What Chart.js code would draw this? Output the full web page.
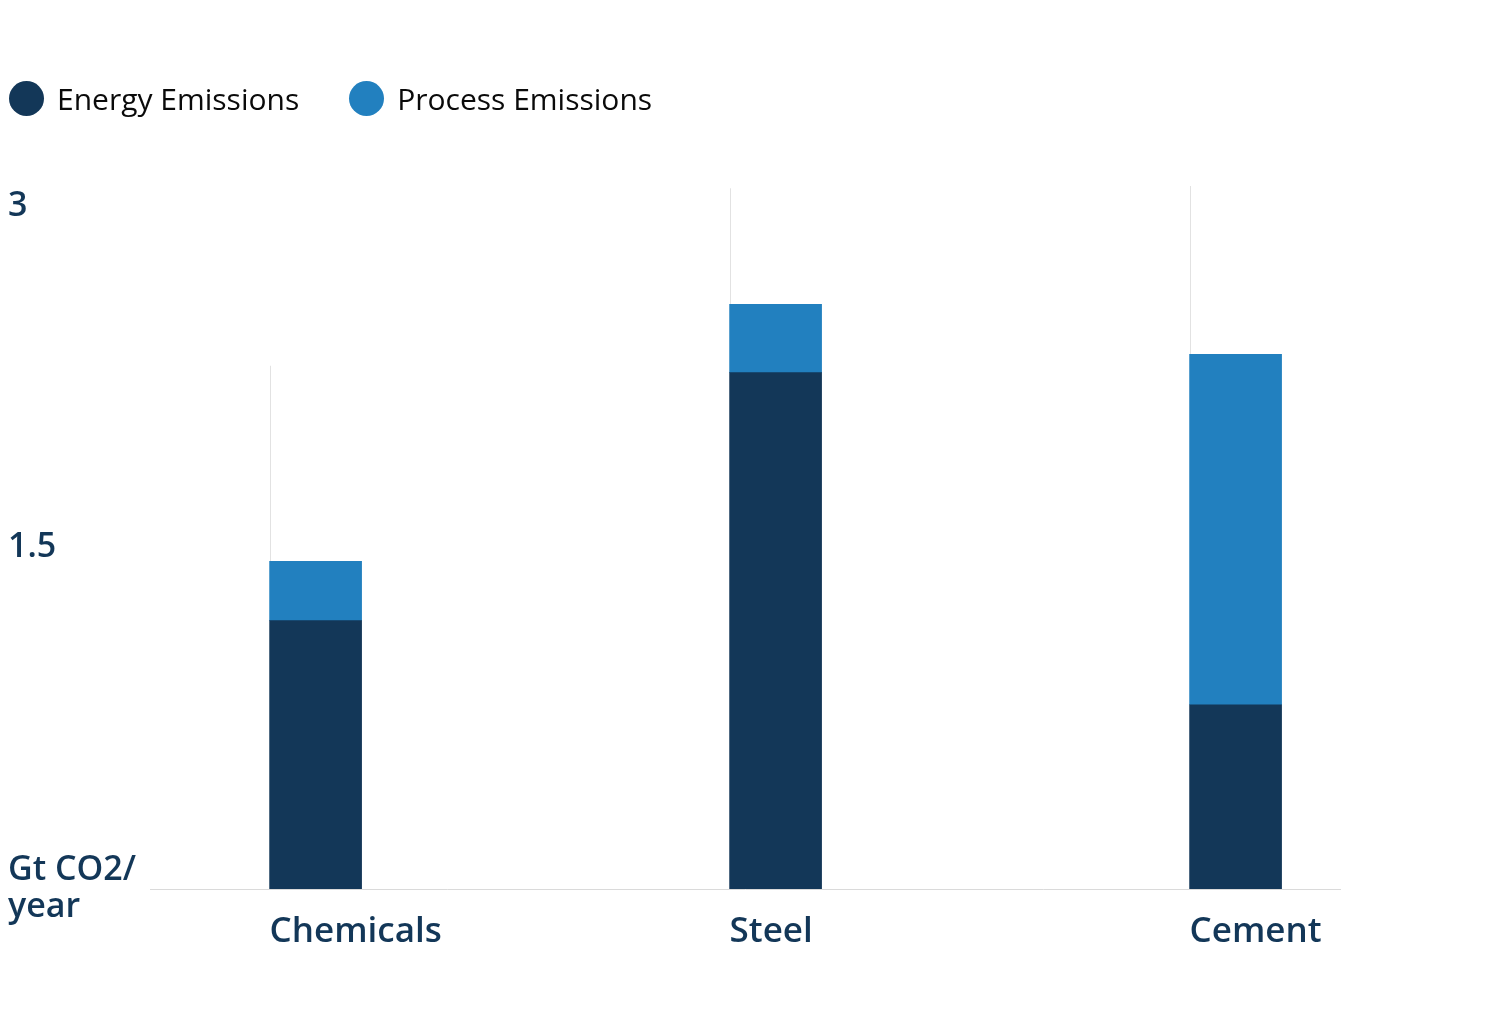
<!DOCTYPE html>
<html>
<head>
<meta charset="utf-8">
<script src="https://cdn.jsdelivr.net/npm/chart.js@4/dist/chart.umd.min.js"></script>
<style>
  html, body { margin: 0; padding: 0; background: #ffffff; }
  #wrap { position: relative; width: 1510px; height: 1021px; }
  #legend { position: absolute; left: 9px; top: 78px; display: flex; align-items: center;
            font-family: "Open Sans", sans-serif; font-size: 30px; font-weight: 500; color: #0a0a0a; }
  .item { display: flex; align-items: center; margin-right: 50px; }
  .dot { width: 35px; height: 35px; border-radius: 50%; margin-right: 13px; }
  canvas { position: absolute; left: 0; top: 0; }
</style>
</head>
<body>
<div id="wrap">
  <canvas id="c" width="1510" height="1021"></canvas>
  <div id="legend"></div>
</div>
<script>
// ---- data ----
const categories = ["Chemicals", "Steel", "Cement"];
const energyEmissions = [1.18, 2.27, 0.81];
const processEmissions = [0.26, 0.30, 1.54];
const leaderTops = [2.30, 3.08, 3.09];
const yTickValues = [0, 1.5, 3];
const yTickLabels = [["Gt CO2/", "year"], "1.5", "3"];
const seriesNames = ["Energy Emissions", "Process Emissions"];
const seriesColors = ["#133758", "#2280bf"];

// ---- HTML legend ----
const legendEl = document.getElementById('legend');
seriesNames.forEach((n, i) => {
  const it = document.createElement('div');
  it.className = 'item';
  const d = document.createElement('span');
  d.className = 'dot';
  d.style.background = seriesColors[i];
  const t = document.createElement('span');
  t.textContent = n;
  it.appendChild(d); it.appendChild(t);
  legendEl.appendChild(it);
});

const leaderPlugin = {
  id: 'leaders',
  beforeDatasetsDraw(chart) {
    const meta = chart.getDatasetMeta(0);
    const y = chart.scales.y;
    const ctx = chart.ctx;
    ctx.save();
    ctx.strokeStyle = '#e2e2e2';
    ctx.lineWidth = 1;
    meta.data.forEach((bar, i) => {
      const x = Math.round(bar.x - bar.width / 2) + 0.5;
      ctx.beginPath();
      ctx.moveTo(x, y.getPixelForValue(0));
      ctx.lineTo(x, y.getPixelForValue(leaderTops[i]));
      ctx.stroke();
    });
    ctx.restore();
  }
};

const xFont = { family: "'Open Sans', sans-serif", size: 35, weight: '600', lineHeight: 1.1 };
const yFont = { family: "'Open Sans', sans-serif", size: 34, weight: '600', lineHeight: 1.07 };

new Chart(document.getElementById('c'), {
  type: 'bar',
  data: {
    datasets: [
      { label: seriesNames[0], data: categories.map((c, i) => ({ x: i, y: energyEmissions[i] })),
        backgroundColor: seriesColors[0], barThickness: 92 },
      { label: seriesNames[1], data: categories.map((c, i) => ({ x: i, y: processEmissions[i] })),
        backgroundColor: seriesColors[1], barThickness: 92 }
    ]
  },
  options: {
    responsive: false,
    animation: false,
    layout: { padding: { left: 8, right: 170, top: 161, bottom: 0 } },
    plugins: { legend: { display: false }, tooltip: { enabled: false } },
    scales: {
      x: {
        type: 'linear',
        stacked: true,
        offset: false,
        min: -0.36,
        max: 2.227,
        afterBuildTicks(scale) { scale.ticks = categories.map((c, i) => ({ value: i })); },
        afterFit(scale) { scale.height = 132; },
        grid: { display: false, drawTicks: false, offset: false },
        border: { display: true, color: '#dadada', width: 1 },
        ticks: {
          callback: (v) => categories[v],
          align: 'start',
          labelOffset: -46,
          padding: 24,
          maxRotation: 0,
          autoSkip: false,
          color: '#133758',
          font: xFont
        }
      },
      y: {
        stacked: true,
        min: 0,
        max: 3.2,
        afterBuildTicks(scale) { scale.ticks = yTickValues.map(v => ({ value: v })); },
        afterFit(scale) { scale.width = 142; },
        grid: { display: false, drawTicks: false },
        border: { display: false },
        ticks: {
          callback: (v) => yTickLabels[yTickValues.indexOf(v)],
          crossAlign: 'far',
          color: '#133758',
          font: yFont
        }
      }
    }
  },
  plugins: [leaderPlugin]
});
</script>
</body>
</html>
